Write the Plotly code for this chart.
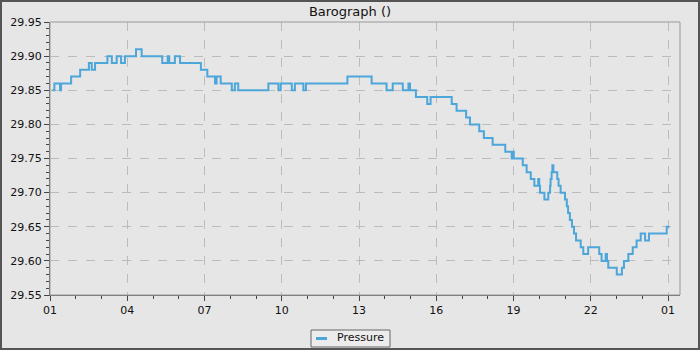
import plotly.graph_objects as go

# Step series: hour of start of each level, pressure level (inHg)
hours = [1.09, 1.17, 1.39, 1.43, 1.82, 2.17, 2.51, 2.62, 2.75, 3.23, 3.40, 3.59, 3.76, 3.91,
         4.34, 4.56, 5.36, 5.57, 5.63, 5.85, 6.05, 6.86, 7.11, 7.41, 7.47, 7.63, 8.06, 8.18,
         8.31, 9.48, 9.87, 9.96, 10.39, 10.51, 10.84, 10.94, 12.55, 13.49, 14.07, 14.31,
         14.70, 14.92, 14.98, 15.21, 15.65, 15.78, 16.60, 16.79, 17.16, 17.31, 17.67, 17.85,
         18.19, 18.68, 18.93, 18.97, 19.01, 19.36, 19.51, 19.67, 19.81, 19.96, 20.00, 20.03,
         20.20, 20.35, 20.42, 20.44, 20.48, 20.51, 20.55, 20.70, 20.75, 20.83, 21.00, 21.07,
         21.12, 21.19, 21.27, 21.35, 21.43, 21.61, 21.71, 21.90, 22.33, 22.42, 22.58, 22.63,
         22.68, 23.01, 23.21, 23.29, 23.46, 23.63, 23.78, 23.94, 24.11, 24.26, 24.95, 25.05]
pressure = [29.85, 29.86, 29.85, 29.86, 29.87, 29.88, 29.89, 29.88, 29.89, 29.90, 29.89, 29.90, 29.89, 29.90,
            29.91, 29.90, 29.89, 29.90, 29.89, 29.90, 29.89, 29.88, 29.87, 29.86, 29.87, 29.86, 29.85, 29.86,
            29.85, 29.86, 29.85, 29.86, 29.85, 29.86, 29.85, 29.86, 29.87, 29.86, 29.85, 29.86,
            29.85, 29.86, 29.85, 29.84, 29.83, 29.84, 29.83, 29.82, 29.81, 29.80, 29.79, 29.78,
            29.77, 29.76, 29.75, 29.76, 29.75, 29.74, 29.73, 29.72, 29.71, 29.72, 29.71, 29.70,
            29.69, 29.70, 29.71, 29.72, 29.73, 29.74, 29.73, 29.72, 29.71, 29.70, 29.69, 29.68,
            29.67, 29.66, 29.65, 29.64, 29.63, 29.62, 29.61, 29.62, 29.61, 29.60, 29.61, 29.60,
            29.59, 29.58, 29.59, 29.60, 29.61, 29.62, 29.63, 29.64, 29.63, 29.64, 29.65, 29.65]

x_tickvals = [1, 4, 7, 10, 13, 16, 19, 22, 25]
x_ticktext = ["01", "04", "07", "10", "13", "16", "19", "22", "01"]
y_tickvals = [29.55, 29.60, 29.65, 29.70, 29.75, 29.80, 29.85, 29.90, 29.95]
series_name = "Pressure"

FONT = "DejaVu Sans"
BG = "#e6e6e6"
LINE = "#4ca6da"

fig = go.Figure()
fig.add_trace(go.Scatter(
    x=hours, y=pressure, mode="lines", name=series_name, showlegend=False,
    line=dict(color=LINE, width=2, shape="hv"),
))

L, R, T, B = 50, 20, 22, 55
pw, ph = 700 - L - R, 350 - T - B


def px(p):
    return (p - L) / pw


def py(p):
    return (350 - B - p) / ph


fig.update_layout(
    width=700, height=350,
    margin=dict(l=L, r=R, t=T, b=B, autoexpand=False),
    paper_bgcolor=BG, plot_bgcolor=BG,
    font=dict(family=FONT, size=11, color="#111"),
    title=dict(text="Barograph ()", x=0.5, xanchor="center", y=1 - 11 / 350, yanchor="middle",
               font=dict(family=FONT, size=13, color="#111")),
    xaxis=dict(range=[1, 1 + (680 - 50) / 25.75], tickmode="array", tickvals=x_tickvals, ticktext=x_ticktext,
               showgrid=True, gridcolor="#bcbcbc", griddash="dash", gridwidth=1,
               showline=True, linecolor="#666", linewidth=1, ticks="outside", ticklen=5, tickcolor="#444",
               minor=dict(dtick=1, ticks="outside", ticklen=3, tickcolor="#444", showgrid=False),
               zeroline=False),
    yaxis=dict(range=[29.55, 29.95], tickmode="array", tickvals=y_tickvals, tickformat=".2f",
               showgrid=True, gridcolor="#bcbcbc", griddash="dash", gridwidth=1,
               showline=True, linecolor="#666", linewidth=1, ticks="outside", ticklen=5, tickcolor="#444",
               minor=dict(tickmode="linear", tick0=29.55, dtick=0.01, ticks="outside", ticklen=3, tickcolor="#444", showgrid=False),
               zeroline=False),
    shapes=[
        dict(type="rect", xref="paper", yref="paper", x0=0, x1=1, y0=0, y1=1,
             line=dict(color="#999", width=1), layer="above"),
        dict(type="rect", xref="paper", yref="paper",
             x0=px(1), x1=px(699), y0=py(349), y1=py(1),
             line=dict(color="#555", width=2), layer="above"),
        # legend box
        dict(type="rect", xref="paper", yref="paper",
             x0=px(311), x1=px(390), y0=py(347), y1=py(330),
             line=dict(color="#666", width=1), fillcolor="#ececec", layer="above"),
        # legend swatch
        dict(type="line", xref="paper", yref="paper",
             x0=px(316), x1=px(327), y0=py(338.5), y1=py(338.5),
             line=dict(color=LINE, width=3), layer="above"),
    ],
    annotations=[
        dict(text=series_name, xref="paper", yref="paper", x=px(335), y=py(338), xanchor="left", yanchor="middle",
             showarrow=False, font=dict(family=FONT, size=11, color="#111")),
    ],
)

fig.write_html("out.html")
